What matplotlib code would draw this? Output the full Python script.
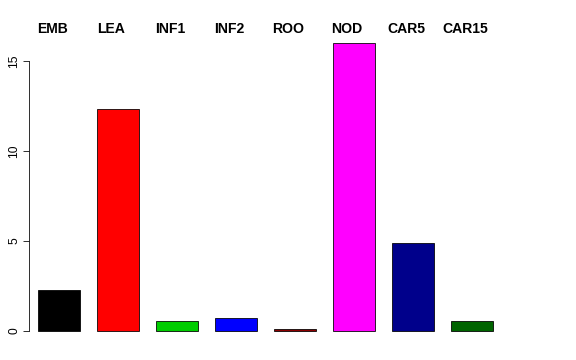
import matplotlib
matplotlib.use("Agg")
import matplotlib.pyplot as plt
import numpy as np

# data
labels = ["EMB", "LEA", "INF1", "INF2", "ROO", "NOD", "CAR5", "CAR15"]
values = [2.28, 12.33, 0.56, 0.72, 0.11, 16.0, 4.89, 0.56]
colors = ["black", "red", "#00CD00", "blue", "#8B0000", "magenta", "#00008B", "#006400"]
yticks = [0, 5, 10, 15]

plt.rcParams['font.family'] = ['Liberation Sans', 'DejaVu Sans']

fig = plt.figure(figsize=(8, 5), dpi=72)
W, H = 576, 360
# axes box in pixels: left 29, right 547, top 31.5, bottom 342.5
ax = fig.add_axes([29 / W, 1 - 342.5 / H, (547 - 29) / W, (342.5 - 31.5) / H])

x = np.arange(len(values))
ax.bar(x, values, width=0.71, color=colors, edgecolor="black", linewidth=0.8)

ax.set_xlim(-0.51, 8.27)
ax.set_ylim(-0.64, 16.64)

for s in ["top", "right", "bottom"]:
    ax.spines[s].set_visible(False)
ax.spines["left"].set_bounds(0, 15)
ax.spines["left"].set_linewidth(0.8)
ax.set_xticks([])
ax.set_yticks(yticks)
ax.set_yticklabels([str(t) for t in yticks], rotation=90, va="center", fontsize=12)
ax.tick_params(axis="y", length=6, width=0.8, pad=3)

# labels on top
for xi, lab in zip(x, labels):
    ax.text(xi - 0.12, 16.8, lab, ha="center", va="center", fontsize=14,
            fontweight="bold", clip_on=False)

fig.savefig("out.png", dpi=72)
